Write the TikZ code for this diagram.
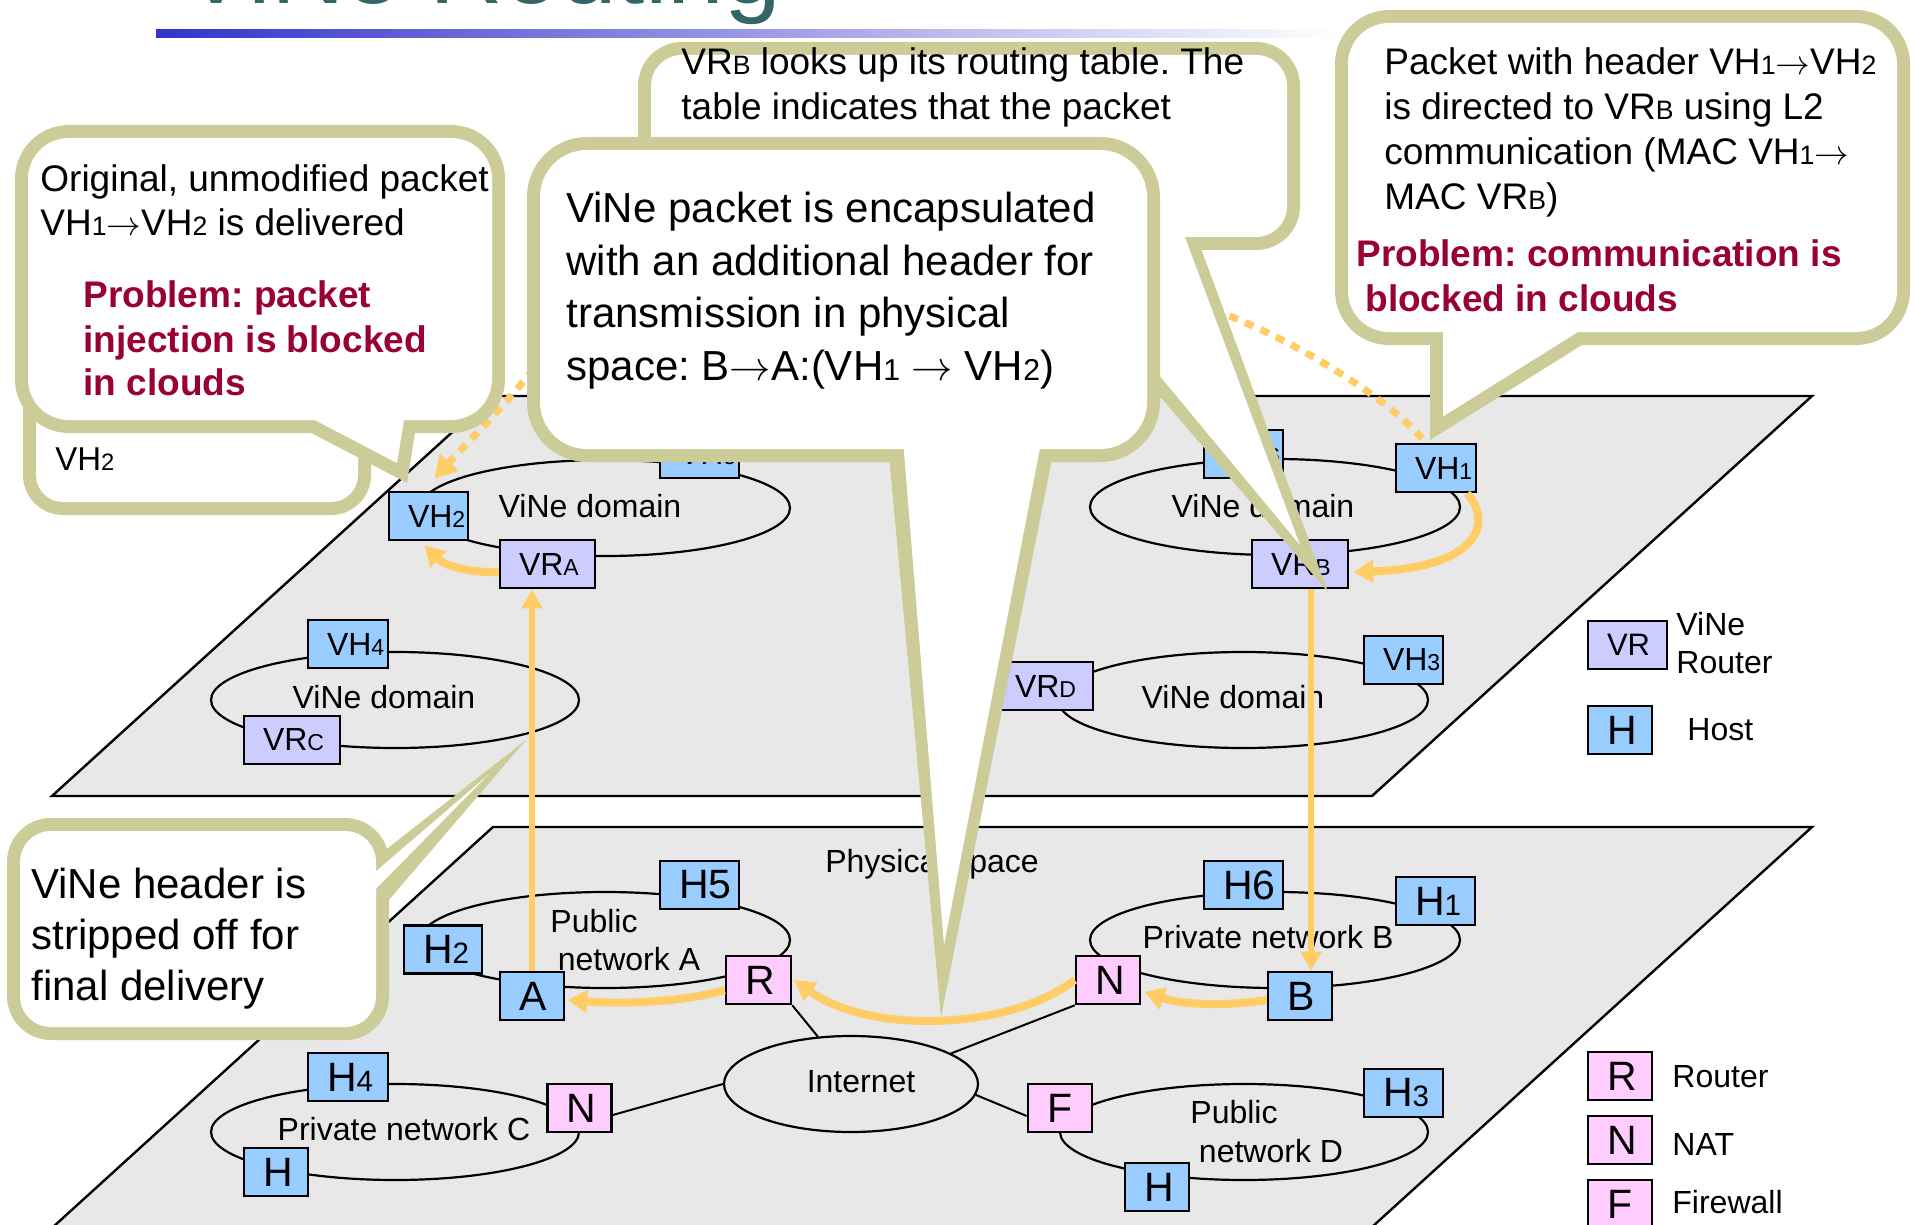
\documentclass[tikz,border=0pt]{standalone}
\usepackage{fontspec}
\setmainfont{Liberation Sans}
\usetikzlibrary{arrows.meta,shapes.geometric}

\definecolor{hostblue}{RGB}{153,204,255}
\definecolor{vrlav}{RGB}{204,204,255}
\definecolor{netpink}{RGB}{255,204,255}
\definecolor{planegray}{RGB}{232,232,232}
\definecolor{flow}{RGB}{255,204,102}
\definecolor{khaki}{RGB}{204,204,153}
\definecolor{alert}{RGB}{153,0,51}
\definecolor{titleteal}{RGB}{51,102,102}
\definecolor{barblue}{RGB}{51,51,204}

% smaller trailing letter/digit (VH2, VRA, ...)
\newlength\smlen
\newcommand\lo[1]{{\setlength\smlen{\csname f@size\endcsname pt}\fontsize{0.72\smlen}{0pt}\selectfont #1}}
% box label: fixed box width, text set from the left with a fixed pad
\newcommand\bxt[2]{\makebox[#1][l]{\hspace{9.5pt}#2}}
% long thin arrow used in packet headers
\newcommand\ar{\ensuremath{\rightarrow}}
\frenchspacing

\begin{document}
\begin{tikzpicture}[x=0.5pt,y=-0.5pt,
  plane/.style={fill=planegray, draw=black, line width=1.2pt},
  dom/.style={ellipse, draw=black, line width=1.1pt, inner sep=0pt, minimum height=48pt},
  ubox/.style={draw=black, line width=1.3pt, inner sep=0pt, minimum height=24pt, font=\fontsize{16}{19}\selectfont},
  lbox/.style={draw=black, line width=1.3pt, inner sep=0pt, minimum height=24pt, font=\fontsize{20.5}{24}\selectfont},
  fhost/.style={fill=hostblue}, fvr/.style={fill=vrlav}, fnet/.style={fill=netpink},
  lbl/.style={anchor=base, inner sep=0pt, font=\fontsize{16}{19}\selectfont},
  lgd/.style={anchor=base west, inner sep=0pt, font=\fontsize{16}{19}\selectfont},
  link/.style={draw=black, line width=1pt},
  flowv/.style={draw=flow, line width=3pt, -{Triangle[length=9.5pt,width=10pt]}},
  flowc/.style={draw=flow, line width=4pt, -{Triangle[length=10pt,width=11pt]}},
  flowd/.style={draw=flow, line width=3.5pt, dash pattern=on 4.5pt off 4pt, -{Triangle[length=11pt,width=12pt]}},
  ct/.style={anchor=base west, inner sep=0pt, font=\fontsize{18.5}{22}\selectfont},
  cb/.style={anchor=base west, inner sep=0pt, font=\fontsize{21}{25}\selectfont},
  cp/.style={anchor=base west, inner sep=0pt, text=alert, font=\bfseries\fontsize{18.5}{22}\selectfont}]

\useasboundingbox (0,0) rectangle (1916,1225);
\clip (0,0) rectangle (1916,1225);
\fill[white] (0,0) rectangle (1916,1225);

% title and rule
\node[anchor=base west, inner sep=0pt, text=titleteal, font=\fontsize{51}{60}\selectfont] (title) at (182,4) {ViNe Routing};
\shade[left color=barblue, right color=white] (156,30) rectangle (1340,38);

% virtual layer and physical layer
\draw[plane] (492,396) -- (1812,396) -- (1372,796) -- (52,796) -- cycle;
\draw[plane] (493,827) -- (1812,827) -- (1372,1227) -- (53,1227) -- cycle;

% domains and networks
\node[dom, minimum width=185pt] (domA) at (605,508) {};
\node[dom, minimum width=184pt] (domC) at (395,700) {};
\node[dom, minimum width=185pt] (domB) at (1275,507) {};
\node[dom, minimum width=185pt] (domD) at (1243,700) {};
\node[dom, minimum width=185pt] (netA) at (605,940) {};
\node[dom, minimum width=127pt] (inet) at (851,1084) {};
\node[dom, minimum width=184pt] (netC) at (395,1132) {};
\node[dom, minimum width=185pt] (netB) at (1275,940) {};
\node[dom, minimum width=184pt] (netD) at (1244,1132) {};

\node[lbl] (ldA) at (590,517) {ViNe domain};
\node[lbl] (ldC) at (384,708) {ViNe domain};
\node[lbl] (ldB) at (1263,517) {ViNe domain};
\node[lbl] (ldD) at (1233,708) {ViNe domain};
\node[lbl] (lnA1) at (594,932) {Public};
\node[lbl] (lnA2) at (629,970) {network A};
\node[lbl] (linet) at (861,1092) {Internet};
\node[lbl] (lnC) at (404,1140) {Private network C};
\node[lbl] (lnB) at (1268,948) {Private network B};
\node[lbl] (lnD1) at (1234,1123) {Public};
\node[lbl] (lnD2) at (1271,1162) {network D};
\node[lbl] (lphys) at (932,872) {Physical space};

% virtual hosts and routers
\node[ubox,fhost] (vh2) at (428.5,516) {\bxt{39.5pt}{VH\lo{2}}};
\node[ubox,fhost] (vh5) at (699.5,454) {\bxt{39.5pt}{VH\lo{5}}};
\node[ubox,fvr] (vra) at (547.5,564) {\bxt{47.5pt}{VR\lo{A}}};
\node[ubox,fhost] (vh4) at (348,644) {\bxt{40pt}{VH\lo{4}}};
\node[ubox,fvr] (vrc) at (292,740) {\bxt{48pt}{VR\lo{C}}};
\node[ubox,fhost] (vh6) at (1243.5,454) {\bxt{39.5pt}{VH\lo{6}}};
\node[ubox,fhost] (vh1) at (1436,468) {\bxt{40pt}{VH\lo{1}}};
\node[ubox,fvr] (vrb) at (1300,564) {\bxt{48pt}{VR\lo{B}}};
\node[ubox,fvr] (vrd) at (1044.5,686) {\bxt{48.5pt}{VR\lo{D}}};
\node[ubox,fhost] (vh3) at (1403.5,660) {\bxt{39.5pt}{VH\lo{3}}};

% physical hosts, routers, NATs, firewall
\node[lbox,fhost] (h5) at (699.5,885) {\bxt{39.5pt}{H5}};
\node[lbox,fhost] (h2) at (443,949.5) {\bxt{39pt}{H\lo{2}}};
\node[lbox,fhost] (a) at (532,996) {\bxt{32pt}{A}};
\node[lbox,fnet] (r) at (758.5,980) {\bxt{32.5pt}{R}};
\node[lbox,fhost] (h4) at (348,1077) {\bxt{40pt}{H\lo{4}}};
\node[lbox,fhost] (hc) at (276,1172) {\bxt{32pt}{H}};
\node[lbox,fnet] (nc) at (579.5,1108) {\bxt{32pt}{N}};
\node[lbox,fhost] (h6) at (1243.5,885) {\bxt{39.5pt}{H6}};
\node[lbox,fhost] (h1) at (1435.5,901) {\bxt{39.5pt}{H\lo{1}}};
\node[lbox,fnet] (nb) at (1108,980) {\bxt{32pt}{N}};
\node[lbox,fhost] (b) at (1300,996) {\bxt{32pt}{B}};
\node[lbox,fnet] (f) at (1060,1108) {\bxt{32pt}{F}};
\node[lbox,fhost] (h3) at (1403.5,1093) {\bxt{39.5pt}{H\lo{3}}};
\node[lbox,fhost] (hd) at (1157,1187) {\bxt{32pt}{H}};

% legend
\node[ubox,fvr,font=\fontsize{15.5}{18}\selectfont] (keyvr) at (1627.5,645) {\bxt{39.5pt}{VR}};
\node[lbox,fhost] (keyh) at (1620,730) {\bxt{32pt}{H}};
\node[lgd] (keyvr1) at (1676,635) {ViNe};
\node[lgd] (keyvr2) at (1676,673) {Router};
\node[lgd] (keyh1) at (1687,740) {Host};
\node[lbox,fnet] (keyr) at (1620,1076) {\bxt{32pt}{R}};
\node[lbox,fnet] (keyn) at (1620,1140) {\bxt{32pt}{N}};
\node[lbox,fnet] (keyf) at (1620,1204) {\bxt{32pt}{F}};
\node[lgd] (keyr1) at (1672,1087) {Router};
\node[lgd] (keyn1) at (1672,1155) {NAT};
\node[lgd] (keyf1) at (1672,1213) {Firewall};

% physical links
\draw[link] (r.south east) -- (inet.125);
\draw[link] ([yshift=-3.5pt]nc.east) -- (inet.west);
\draw[link] (nb.south west) -- (inet.17);
\draw[link] (inet.355) -- ([yshift=-4pt]f.west);

% packet path
\draw[flowv] (a.north) -- (a.north |- vra.south);
\draw[flowv] ([xshift=5.5pt]vrb.south) -- ([xshift=5.5pt]b.north);
\draw[flowc] ([yshift=-4pt]vra.west) .. controls (470,573) and (445,566) .. ([xshift=-2pt,yshift=-2pt]vh2.south);
\draw[flowc] ([xshift=15.5pt]vh1.south) .. controls (1495,525) and (1475,568) .. ([xshift=2pt,yshift=-4pt]vrb.east);
\draw[flowc] ([yshift=-2pt]b.west) .. controls (1220,1007) and (1180,1004) .. ([xshift=1.5pt,yshift=-6pt]nb.east);
\draw[flowc] (nb.west) .. controls (1010,1030) and (870,1035) .. ([xshift=1pt]r.east);
\draw[flowc] ([yshift=-5pt]r.west) .. controls (680,1003) and (620,1004) .. ([xshift=1pt,yshift=-2pt]a.east);
\draw[flowd] ([xshift=-7pt,yshift=2pt]vh1.north) .. controls (1390,400) and (1290,335) .. (1200,305)
  .. controls (1000,240) and (620,260) .. (527,377) .. controls (500,410) and (465,445) .. ([xshift=3pt,yshift=6pt]vh2.north);

% callout behind (only its lower part shows)
\fill[khaki, rounded corners=20pt] (23,290) rectangle (371,515);
\fill[white, rounded corners=13.5pt] (36,303) rectangle (358,502);
\node[anchor=base west, inner sep=0pt, font=\fontsize{16.5}{20}\selectfont] (ta1) at (55,470) {VH\lo{2}};

% callout: delivery to VH2
\fill[khaki, rounded corners=27pt] (15,125) rectangle (505,433);
\fill[khaki] (267.5,410) -- (407,483) -- (418.7,410) -- cycle;
\fill[white, rounded corners=20.5pt] (28,138) rectangle (492,420);
\fill[white] (295.5,410) -- (397,463) -- (405.6,410) -- cycle;
\node[ct] (tb1) at (40,192) {Original, unmodified packet};
\node[ct] (tb2) at (40,235) {VH\lo{1}\ar VH\lo{2} is delivered};
\node[cp] (tb3) at (83,307) {Problem: packet};
\node[cp] (tb4) at (83,352) {injection is blocked};
\node[cp] (tb5) at (83,395) {in clouds};

% callout: routing table lookup at VRB
\fill[khaki, rounded corners=22pt] (638,42) rectangle (1300,250);
\fill[khaki] (991,200) -- (1328,592) -- (1183,200) -- cycle;
\fill[white, rounded corners=15.5pt] (651,55) rectangle (1287,237);
\fill[white] (1014,200) -- (1300,545) -- (1171,200) -- cycle;
\node[ct] (tc1) at (681,75) {VR\lo{B} looks up its routing table. The};
\node[ct] (tc2) at (681,120) {table indicates that the packet};

% callout: L2 delivery to VRB
\fill[khaki, rounded corners=27pt] (1335,10) rectangle (1910,345);
\fill[khaki] (1430,320) -- (1430,440) -- (1622,320) -- cycle;
\fill[white, rounded corners=20.5pt] (1348,23) rectangle (1897,332);
\fill[white] (1443,320) -- (1443,416.5) -- (1597,320) -- cycle;
\node[ct] (td1) at (1384,75) {Packet with header VH\lo{1}\ar VH\lo{2}};
\node[ct] (td2) at (1384,120) {is directed to VR\lo{B} using L2};
\node[ct] (td3) at (1384,165) {communication (MAC VH\lo{1}\ar};
\node[ct] (td4) at (1384,210) {MAC VR\lo{B})};
\node[cp] (td5) at (1356,267) {Problem: communication is};
\node[cp] (td6) at (1365,312) {blocked in clouds};

% callout: encapsulation
\fill[khaki, rounded corners=30pt] (527,137) rectangle (1160,462);
\fill[khaki] (886.6,430) -- (941,1017) -- (1057.8,430) -- cycle;
\fill[white, rounded corners=23.5pt] (540,150) rectangle (1147,449);
\fill[white] (902.2,430) -- (944,945) -- (1043.5,430) -- cycle;
\node[cb] (te1) at (566,223) {ViNe packet is encapsulated};
\node[cb] (te2) at (566,275.5) {with an additional header for};
\node[cb] (te3) at (566,328) {transmission in physical};
\node[cb] (te4) at (566,380.5) {space: B\ar A:(VH\lo{1} \ar{} VH\lo{2})};

% callout: decapsulation
\fill[khaki, rounded corners=22pt] (7,818) rectangle (389,1040);
\fill[khaki] (370,862) -- (526,740) -- (370,922) -- cycle;
\fill[white, rounded corners=15.5pt] (20,831) rectangle (376,1027);
\fill[white] (360,885) -- (488,775) -- (360,905) -- cycle;
\node[cb] (tf1) at (31,898) {ViNe header is};
\node[cb] (tf2) at (31,949) {stripped off for};
\node[cb] (tf3) at (31,1000) {final delivery};
\end{tikzpicture}
\end{document}
